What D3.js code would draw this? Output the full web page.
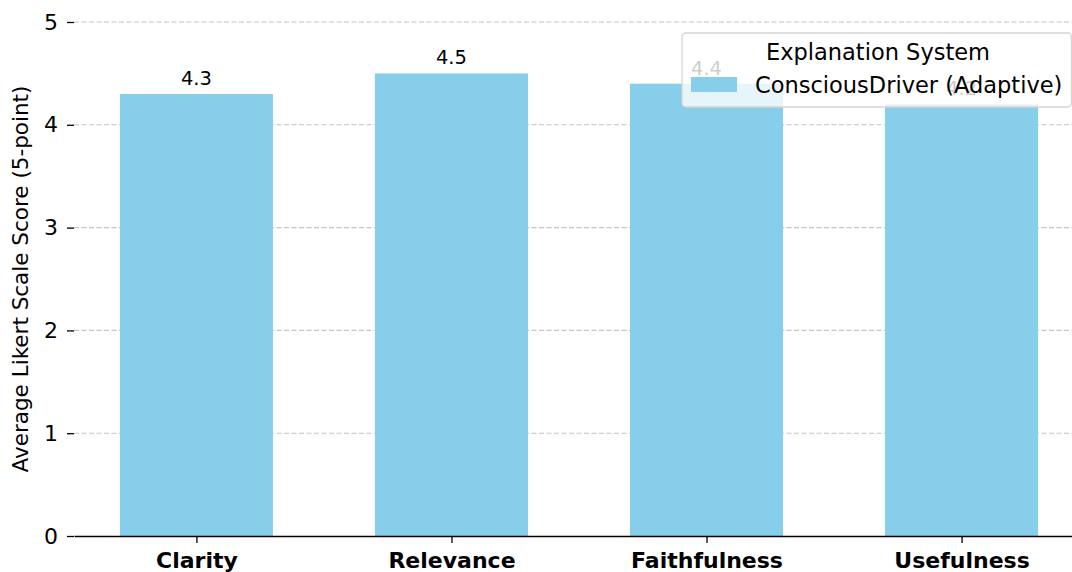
<!DOCTYPE html>
<html>
<head>
<meta charset="utf-8">
<script src="https://cdn.jsdelivr.net/npm/d3@7"></script>
<style>
body { margin: 0; background: #fff; }
svg { display: block; font-family: "DejaVu Sans", sans-serif; }
</style>
</head>
<body>
<script>
var width = 1072;
var height = 572;

// the axes run past the right edge of the picture, as in the source image
var margin = { top: 22, right: -12, bottom: 36, left: 74 };

var categories = ['Clarity', 'Relevance', 'Faithfulness', 'Usefulness'];
var scores = [4.3, 4.5, 4.4, 4.2];
var yTicks = [0, 1, 2, 3, 4, 5];
var seriesName = 'ConsciousDriver (Adaptive)';
var legendTitle = 'Explanation System';

var barColor = '#87ceeb';

var dataset = categories.map(function(c, i) { return [c, scores[i]]; });

var innerW = width - margin.left - margin.right;
var innerH = height - margin.top - margin.bottom;

// categorical x: index -0.48 .. 3.48 like matplotlib margins
var xScale = d3.scaleLinear()
    .domain([-0.48, categories.length - 1 + 0.48])
    .range([0, innerW]);

var yScale = d3.scaleLinear()
    .domain([0, 5])
    .range([innerH, 0]);

var barW = xScale(0.6) - xScale(0);

var svg = d3.select('body')
    .append('svg')
    .attr('width', width)
    .attr('height', height);

var g = svg.append('g')
    .attr('transform', 'translate(' + margin.left + ',' + margin.top + ')');

// grid
g.append('g')
    .selectAll('line')
    .data(yTicks.filter(function(d) { return d > 0; }))
    .enter()
    .append('line')
    .attr('x1', 0)
    .attr('x2', innerW)
    .attr('y1', function(d) { return yScale(d); })
    .attr('y2', function(d) { return yScale(d); })
    .attr('stroke', '#c4c4c4')
    .attr('stroke-width', 1.1)
    .attr('stroke-dasharray', '5,2.5');

// bars
g.append('g')
    .selectAll('rect')
    .data(dataset)
    .enter()
    .append('rect')
    .attr('x', function(d, i) { return xScale(i) - barW / 2; })
    .attr('y', function(d) { return yScale(d[1]); })
    .attr('width', barW)
    .attr('height', function(d) { return innerH - yScale(d[1]); })
    .attr('fill', barColor);

// value labels
g.append('g')
    .selectAll('text')
    .data(dataset)
    .enter()
    .append('text')
    .attr('x', function(d, i) { return xScale(i); })
    .attr('y', function(d) { return yScale(d[1]) - 9; })
    .attr('text-anchor', 'middle')
    .attr('font-size', '19.5px')
    .attr('fill', '#000')
    .text(function(d) { return d[1].toFixed(1); });

// y axis (no spine)
var yAxis = d3.axisLeft(yScale)
    .tickValues(yTicks)
    .tickFormat(d3.format('d'))
    .tickSize(7)
    .tickPadding(9);

var yg = g.append('g').call(yAxis);
yg.select('.domain').remove();
yg.selectAll('text').attr('font-size', '22px').attr('fill', '#000').attr('font-family', '"DejaVu Sans", sans-serif');
yg.selectAll('line').attr('stroke', '#000').attr('stroke-width', 1.3);

// x axis
var xAxis = d3.axisBottom(xScale)
    .tickValues(d3.range(categories.length))
    .tickFormat(function(i) { return categories[i]; })
    .tickSize(7)
    .tickSizeOuter(0)
    .tickPadding(9);

var xg = g.append('g')
    .attr('transform', 'translate(0,' + innerH + ')')
    .call(xAxis);
xg.select('.domain').attr('stroke', '#000').attr('stroke-width', 1.3);
xg.selectAll('line').attr('stroke', '#000').attr('stroke-width', 1.3);
xg.selectAll('text')
    .attr('font-size', '22px')
    .attr('font-weight', 'bold')
    .attr('fill', '#000')
    .attr('font-family', '"DejaVu Sans", sans-serif');

// y label
svg.append('text')
    .attr('transform', 'translate(28,' + (margin.top + innerH / 2) + ') rotate(-90)')
    .attr('text-anchor', 'middle')
    .attr('font-size', '21.5px')
    .text('Average Likert Scale Score (5-point)');

// legend
var lg = svg.append('g').attr('transform', 'translate(682,33)');
lg.append('rect')
    .attr('width', 389.5)
    .attr('height', 74)
    .attr('rx', 4)
    .attr('fill', 'rgba(255,255,255,0.8)')
    .attr('stroke', '#d4d4d4')
    .attr('stroke-width', 1.3);
lg.append('text')
    .attr('x', 196)
    .attr('y', 27)
    .attr('text-anchor', 'middle')
    .attr('font-size', '22.5px')
    .text(legendTitle);
lg.append('rect')
    .attr('x', 9)
    .attr('y', 44)
    .attr('width', 46)
    .attr('height', 15)
    .attr('fill', barColor);
lg.append('text')
    .attr('x', 73)
    .attr('y', 60)
    .attr('font-size', '22.5px')
    .text(seriesName);
</script>
</body>
</html>
